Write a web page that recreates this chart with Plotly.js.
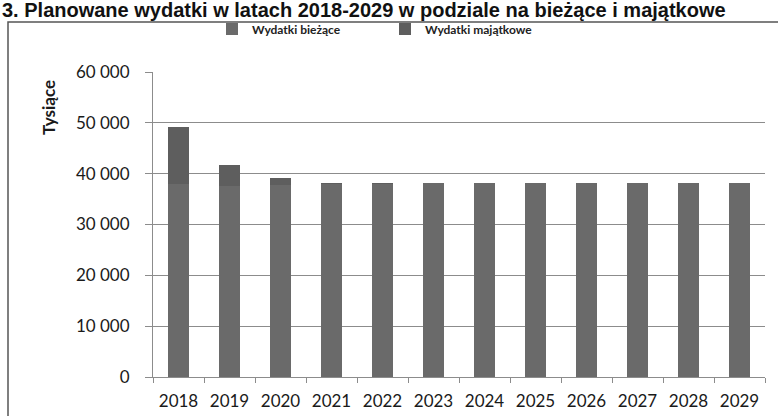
<!DOCTYPE html>
<html>
<head>
<meta charset="utf-8">
<script src="https://cdn.plot.ly/plotly-3.0.1.min.js"></script>
<style>
html,body{margin:0;padding:0;background:#fff;}
#chart{width:778px;height:416px;}
</style>
</head>
<body>
<div id="chart"></div>
<script>
// Data (thousands PLN)
const years = ['2018','2019','2020','2021','2022','2023','2024','2025','2026','2027','2028','2029'];
const wydatkiBiezace = [38000, 37600, 37700, 37900, 38000, 38100, 38100, 38100, 38200, 38200, 38200, 38200];
const wydatkiMajatkowe = [11200, 4100, 1500, 300, 200, 100, 100, 100, 0, 0, 0, 0];
const seriesNames = ['Wydatki bieżące', 'Wydatki majątkowe'];
const yTickVals = [0, 10000, 20000, 30000, 40000, 50000, 60000];
const yTickText = ['0', '10 000', '20 000', '30 000', '40 000', '50 000', '60 000'];
const titleText = '3. Planowane wydatki w latach 2018-2029 w podziale na bieżące i majątkowe';
const yTitle = 'Tysiące';

const W = 778, H = 416;
const M = {l: 153, r: 13, t: 72, b: 39};
const pw = W - M.l - M.r, ph = H - M.t - M.b;
const px2x = p => (p - M.l) / pw;
const px2y = p => (H - M.b - p) / ph;

const traces = [
  {type: 'bar', x: years, y: wydatkiBiezace, name: seriesNames[0],
   marker: {color: '#6a6a6a', line: {width: 0}}},
  {type: 'bar', x: years, y: wydatkiMajatkowe, name: seriesNames[1],
   marker: {color: '#5e5e5e', line: {width: 0}}}
];

const tickFont = {family: 'Lato, "DejaVu Sans", sans-serif', size: 17, color: '#1a1a1a'};

const layout = {
  width: W, height: H,
  margin: M,
  paper_bgcolor: '#ffffff',
  plot_bgcolor: '#ffffff',
  barmode: 'stack',
  bargap: 0.6,
  showlegend: true,
  legend: {
    orientation: 'h', traceorder: 'normal',
    x: px2x(212), y: px2y(29), xanchor: 'left', yanchor: 'middle',
    font: {family: 'Lato, sans-serif', size: 12, color: '#222', weight: 'bold'},
    itemwidth: 30, tracegroupgap: 0, bgcolor: 'rgba(0,0,0,0)',
    entrywidth: 128, entrywidthmode: 'pixels'
  },
  xaxis: {
    type: 'category',
    showgrid: false,
    showline: true, linecolor: '#8c8c8c', linewidth: 1,
    ticks: 'outside', tickson: 'boundaries', ticklen: 5, tickcolor: '#8c8c8c',
    tickfont: tickFont,
    ticklabelstandoff: 9,
    fixedrange: true
  },
  yaxis: {
    range: [0, 60000],
    tickvals: yTickVals, ticktext: yTickText,
    showgrid: true, gridcolor: '#8c8c8c', gridwidth: 1,
    showline: true, linecolor: '#8c8c8c', linewidth: 1,
    ticks: 'outside', ticklen: 7, tickcolor: '#8c8c8c',
    tickfont: tickFont,
    ticklabelstandoff: 12,
    zeroline: false,
    fixedrange: true
  },
  shapes: [
    {type: 'rect', xref: 'paper', yref: 'paper',
     x0: px2x(8), x1: px2x(800), y0: px2y(440), y1: px2y(22),
     line: {color: '#555', width: 1.5}, fillcolor: 'rgba(0,0,0,0)', layer: 'below'}
  ],
  annotations: [
    {text: titleText, xref: 'paper', yref: 'paper', x: px2x(0), y: px2y(23),
     xanchor: 'left', yanchor: 'bottom', showarrow: false,
     font: {family: '"Liberation Sans", Arial, sans-serif', size: 20, color: '#111', weight: 'bold'}},
    {text: yTitle, xref: 'paper', yref: 'paper', x: px2x(48), y: px2y(108),
     xanchor: 'center', yanchor: 'middle', textangle: -90, showarrow: false,
     font: {family: 'Lato, sans-serif', size: 17, color: '#1a1a1a', weight: 'bold'}}
  ]
};

Plotly.newPlot('chart', traces, layout, {displayModeBar: false, staticPlot: true});
</script>
</body>
</html>
